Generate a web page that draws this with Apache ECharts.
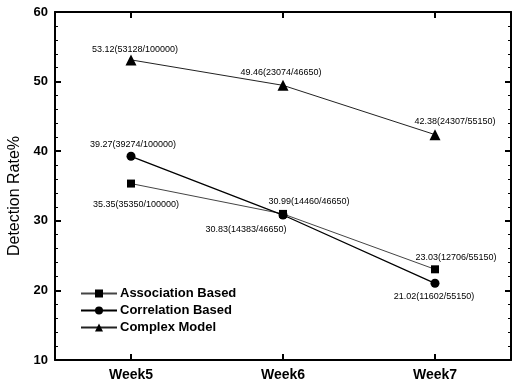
<!DOCTYPE html>
<html>
<head>
<meta charset="utf-8">
<script src="https://cdn.jsdelivr.net/npm/echarts@6/dist/echarts.min.js"></script>
<style>html,body{margin:0;padding:0;background:#fff}#c{width:512px;height:385px}</style>
</head>
<body>
<div id="c"></div>
<script>
// ---- data ----
const categories = ['Week5', 'Week6', 'Week7'];
const associationValues = [35.35, 30.99, 23.03];
const associationCounts = ['35350/100000', '14460/46650', '12706/55150'];
const correlationValues = [39.27, 30.83, 21.02];
const correlationCounts = ['39274/100000', '14383/46650', '11602/55150'];
const complexValues = [53.12, 49.46, 42.38];
const complexCounts = ['53128/100000', '23074/46650', '24307/55150'];
const seriesNames = ['Association Based', 'Correlation Based', 'Complex Model'];
const yTicks = [10, 20, 30, 40, 50, 60];

// ---- styles ----
const FONT = 'Liberation Sans, Arial, sans-serif';
const labelOffsets = {
  association: [[5, 21], [26, -12], [21, -12]],
  correlation: [[2, -12], [-37, 14], [-1, 13]],
  complex: [[4, -10], [-2, -13], [20, -13]]
};

function buildData(values, counts, offsets) {
  return values.map((v, i) => ({
    value: v,
    label: {
      show: true,
      position: 'inside',
      offset: offsets[i],
      formatter: v.toFixed(2) + '(' + counts[i] + ')'
    }
  }));
}

const labelStyle = { fontFamily: FONT, fontSize: 9, color: '#000' };

const chart = echarts.init(document.getElementById('c'), null, { renderer: 'canvas' });
const axisLine = { show: true, lineStyle: { color: '#000', width: 2 } };
chart.setOption({
  animation: false,
  backgroundColor: '#fff',
  grid: { left: 55, right: 1, top: 12, bottom: 25, containLabel: false, outerBoundsMode: 'none' },
  legend: {
    orient: 'vertical',
    left: 75,
    top: 282,
    itemWidth: 36,
    itemHeight: 10,
    itemGap: 4,
    textStyle: { fontFamily: FONT, fontSize: 13, fontWeight: 'bold', color: '#000', padding: [0, 0, 0, -2] },
    data: seriesNames
  },
  xAxis: [
    {
      type: 'category', data: categories, position: 'bottom', boundaryGap: true,
      axisLine: axisLine,
      axisTick: { show: true, inside: true, alignWithLabel: true, length: 6, lineStyle: { color: '#000', width: 2 } },
      axisLabel: { fontFamily: FONT, fontSize: 14, fontWeight: 'bold', color: '#000', margin: 8 },
      splitLine: { show: false }
    },
    {
      type: 'category', data: categories, position: 'top', boundaryGap: true,
      axisLine: axisLine,
      axisTick: { show: true, inside: true, alignWithLabel: true, length: 6, lineStyle: { color: '#000', width: 2 } },
      axisLabel: { show: false },
      splitLine: { show: false }
    }
  ],
  yAxis: [
    {
      type: 'value', min: 10, max: 60, interval: 10, position: 'left',
      name: 'Detection Rate%', nameLocation: 'middle', nameGap: 31, nameRotate: 90,
      nameTextStyle: { fontFamily: FONT, fontSize: 16, color: '#000', padding: [0, 20, 0, 0] },
      axisLine: axisLine,
      axisTick: { show: true, inside: true, length: 6, lineStyle: { color: '#000', width: 2 } },
      minorTick: { show: true, splitNumber: 5, length: 3, lineStyle: { color: '#000', width: 1 } },
      axisLabel: { fontFamily: FONT, fontSize: 13, fontWeight: 'bold', color: '#000', margin: 7,
        formatter: v => yTicks.includes(v) ? String(v) : '' },
      splitLine: { show: false }
    },
    {
      type: 'value', min: 10, max: 60, interval: 10, position: 'right',
      axisLine: axisLine,
      axisTick: { show: true, inside: true, length: 6, lineStyle: { color: '#000', width: 2 } },
      minorTick: { show: true, splitNumber: 5, length: 3, lineStyle: { color: '#000', width: 1 } },
      axisLabel: { show: false },
      splitLine: { show: false }
    }
  ],
  series: [
    {
      name: seriesNames[0], type: 'line', xAxisIndex: 0, yAxisIndex: 0,
      symbol: 'rect', symbolSize: 8, showAllSymbol: true,
      lineStyle: { color: '#444', width: 1 },
      itemStyle: { color: '#000' },
      label: labelStyle,
      data: buildData(associationValues, associationCounts, labelOffsets.association)
    },
    {
      name: seriesNames[1], type: 'line', xAxisIndex: 0, yAxisIndex: 0,
      symbol: 'circle', symbolSize: 9,
      lineStyle: { color: '#000', width: 1.3 },
      itemStyle: { color: '#000' },
      label: labelStyle,
      data: buildData(correlationValues, correlationCounts, labelOffsets.correlation)
    },
    {
      name: seriesNames[2], type: 'line', xAxisIndex: 0, yAxisIndex: 0,
      symbol: 'triangle', symbolSize: 11,
      lineStyle: { color: '#222', width: 1 },
      itemStyle: { color: '#000' },
      label: labelStyle,
      data: buildData(complexValues, complexCounts, labelOffsets.complex)
    }
  ]
});
</script>
</body>
</html>
